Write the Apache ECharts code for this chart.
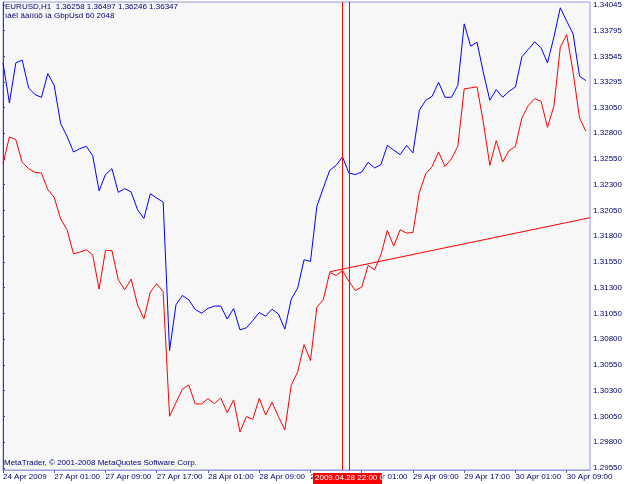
<!DOCTYPE html>
<html>
<head>
<meta charset="utf-8">
<script src="https://cdn.jsdelivr.net/npm/echarts@6/dist/echarts.min.js"></script>
<style>
  html, body { margin: 0; padding: 0; background: #fff; }
  #main { width: 625px; height: 484px; }
</style>
</head>
<body>
<div id="main"></div>
<script>
// EURUSD H1 closes, one per hour from 24 Apr 17:00 to 30 Apr 12:00
var eurusd = [
  1.33483, 1.33095, 1.33483, 1.33509, 1.33240, 1.33175, 1.33149, 1.33379, 1.33263, 1.32893,
  1.32770, 1.32618, 1.32650, 1.32673, 1.32582, 1.32242, 1.32398, 1.32456, 1.32226, 1.32262,
  1.32230, 1.32058, 1.31973, 1.32213, 1.32171, 1.32132, 1.30690, 1.31134, 1.31225, 1.31183,
  1.31090, 1.31053, 1.31100, 1.31122, 1.31122, 1.30996, 1.31098, 1.30891, 1.30911, 1.30982,
  1.31059, 1.31024, 1.31092, 1.31045, 1.30898, 1.31190, 1.31297, 1.31572, 1.31555, 1.32090,
  1.32268, 1.32440, 1.32488, 1.32570, 1.32414, 1.32398, 1.32424, 1.32517, 1.32463, 1.32495,
  1.32682, 1.32636, 1.32592, 1.32682, 1.32609, 1.33023, 1.33120, 1.33159, 1.33295, 1.33149,
  1.33149, 1.33263, 1.33862, 1.33645, 1.33684, 1.33386, 1.33120, 1.33224, 1.33149, 1.33207,
  1.33250, 1.33542, 1.33613, 1.33687, 1.33629, 1.33483, 1.33732, 1.34018, 1.33888, 1.33765,
  1.33353, 1.33311
];
// GbpUsd overlay, scaled onto the same price axis
var gbpusd = [
  1.32502, 1.32764, 1.32738, 1.32517, 1.32456, 1.32420, 1.32414, 1.32252, 1.32177, 1.31967,
  1.31863, 1.31630, 1.31646, 1.31669, 1.31620, 1.31287, 1.31662, 1.31662, 1.31377, 1.31280,
  1.31384, 1.31134, 1.30998, 1.31258, 1.31338, 1.31263, 1.30052, 1.30184, 1.30316, 1.30357,
  1.30172, 1.30172, 1.30224, 1.30175, 1.30230, 1.30087, 1.30211, 1.29900, 1.30049, 1.30023,
  1.30227, 1.30065, 1.30187, 1.30049, 1.29919, 1.30354, 1.30483, 1.30748, 1.30593, 1.31112,
  1.31183, 1.31448, 1.31419, 1.31468, 1.31361, 1.31273, 1.31306, 1.31516, 1.31474, 1.31620,
  1.31856, 1.31705, 1.31863, 1.31831, 1.31837, 1.32226, 1.32407, 1.32478, 1.32618, 1.32478,
  1.32550, 1.32673, 1.33231, 1.33240, 1.33250, 1.32900, 1.32488, 1.32728, 1.32521, 1.32631,
  1.32673, 1.32949, 1.33068, 1.33136, 1.33110, 1.32857, 1.33062, 1.33635, 1.33758, 1.33392,
  1.32949, 1.32819
];
var timeLabels = ['24 Apr 2009', '27 Apr 01:00', '27 Apr 09:00', '27 Apr 17:00', '28 Apr 01:00',
  '28 Apr 09:00', '28 Apr 17:00', '29 Apr 01:00', '29 Apr 09:00', '29 Apr 17:00',
  '30 Apr 01:00', '30 Apr 09:00'];
var priceLabels = ['1.34045', '1.33795', '1.33545', '1.33295', '1.33050', '1.32800', '1.32550',
  '1.32300', '1.32050', '1.31800', '1.31550', '1.31300', '1.31050', '1.30800', '1.30550',
  '1.30300', '1.30050', '1.29800', '1.29550'];
var vLines = [53, 54];               // bar index of the two vertical lines
var trendStart = [51, 1.31455];      // trend line anchor
var trendEnd = [91.65, 1.31980];     // where it meets the right edge

var myChart = echarts.init(document.getElementById('main'));

function toPairs(arr) {
  var out = [];
  for (var i = 0; i < arr.length; i++) out.push([i, arr[i]]);
  return out;
}
var priceTicks = priceLabels.map(function (s) { return parseFloat(s); });
var fontFam = 'Liberation Sans';

var option = {
  animation: false,
  backgroundColor: '#ffffff',
  grid: {
    left: 2, top: 2, right: 30, bottom: 14,
    show: true,
    backgroundColor: '#f7f7f7',
    borderColor: '#9a9ae0',
    borderWidth: 1
  },
  xAxis: {
    type: 'value',
    min: 0,
    max: 91.65,
    interval: 8,
    splitLine: { show: false },
    axisLine: { show: true, lineStyle: { color: '#9a9ae0', width: 1 } },
    axisTick: { show: true, inside: false, length: 3, lineStyle: { color: '#6060c0' } },
    axisLabel: {
      color: '#000070',
      fontFamily: fontFam,
      fontSize: 8,
      align: 'left',
      margin: 3,
      showMaxLabel: false,
      formatter: function (v) {
        var k = Math.round(v / 8);
        return timeLabels[k] || '';
      }
    }
  },
  yAxis: {
    type: 'value',
    position: 'right',
    min: 1.295306,
    max: 1.340741,
    scale: true,
    splitLine: { show: false },
    axisLine: { show: true, lineStyle: { color: '#3a3ac8', width: 1 } },
    axisTick: { show: true, inside: false, length: 2, customValues: priceTicks,
      lineStyle: { color: '#3a3ac8' } },
    axisLabel: {
      customValues: priceTicks,
      color: '#000070',
      fontFamily: fontFam,
      fontSize: 8,
      margin: 3,
      formatter: function (v) { return v.toFixed(5); }
    }
  },
  series: [
    {
      name: 'EURUSD',
      type: 'line',
      data: toPairs(eurusd),
      showSymbol: false,
      lineStyle: { color: '#0000ff', width: 1 },
      itemStyle: { color: '#0000ff' }
    },
    {
      name: 'GbpUsd',
      type: 'line',
      data: toPairs(gbpusd),
      showSymbol: false,
      lineStyle: { color: '#ff0000', width: 1 },
      itemStyle: { color: '#ff0000' },
      markLine: {
        silent: true,
        symbol: ['none', 'none'],
        label: { show: false },
        lineStyle: { color: '#ff0000', width: 1, type: 'solid' },
        data: [
          { xAxis: vLines[0] },
          { xAxis: vLines[1] },
          [{ coord: trendStart }, { coord: trendEnd }]
        ]
      }
    }
  ],
  graphic: [
    { type: 'text', left: 5, top: 3, z: 100,
      style: { text: 'EURUSD,H1  1.36258 1.36497 1.36246 1.36347', fill: '#000070',
        font: '8px ' + fontFam } },
    { type: 'text', left: 5, top: 12, z: 100,
      style: { text: 'ìàëî äàííûõ íà GbpUsd 60 2048', fill: '#000070',
        font: '8px ' + fontFam } },
    { type: 'text', left: 4, top: 459, z: 100,
      style: { text: 'MetaTrader, © 2001-2008 MetaQuotes Software Corp.', fill: '#000070',
        font: '8px ' + fontFam } },
    { type: 'rect', left: 313, top: 473, z: 200,
      shape: { width: 69, height: 11 }, style: { fill: '#ff0000' } },
    { type: 'text', left: 315, top: 474, z: 201,
      style: { text: '2009.04.28 22:00 0', fill: '#ffffff', font: '8px ' + fontFam } }
  ]
};
myChart.setOption(option);
</script>
</body>
</html>
